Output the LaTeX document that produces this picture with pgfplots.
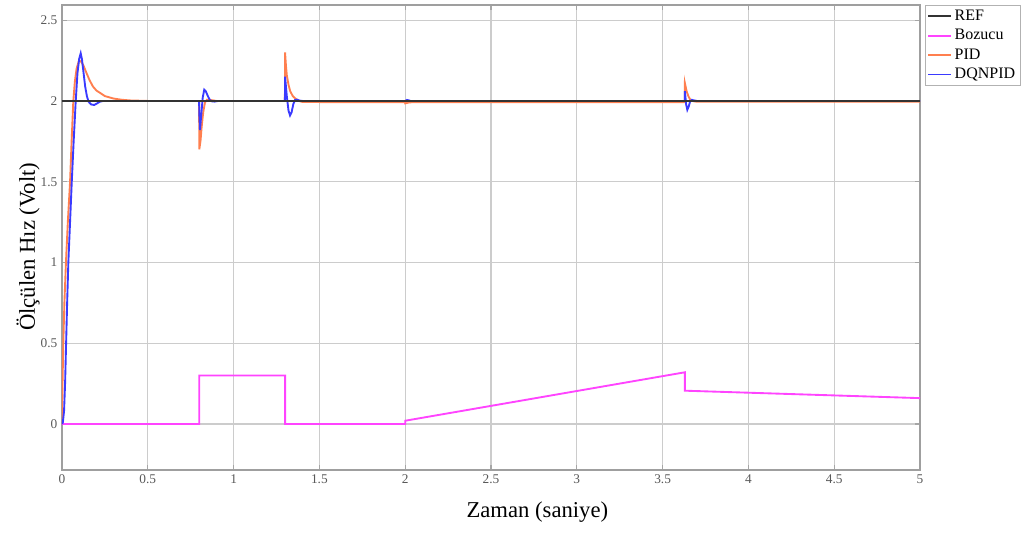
\documentclass[border=0pt]{standalone}
\usepackage{fontspec}
\setmainfont{Liberation Serif}
\usepackage{pgfplots}
\pgfplotsset{compat=1.18}
\definecolor{refc}{HTML}{333333}
\definecolor{bozc}{HTML}{FF44FF}
\definecolor{pidc}{HTML}{FF7F4F}
\definecolor{dqnc}{HTML}{3A3AFF}
\begin{document}
\begin{tikzpicture}
\useasboundingbox (-46.5pt,-46.5pt) rectangle (721.5pt,352.5pt);
\begin{axis}[at={(0,0)},anchor=south west,scale only axis,
  width=643.5pt,height=348.75pt,
  xmin=0,xmax=5,ymin=-0.285,ymax=2.594,
  xtick={0,0.5,...,5},ytick={0,0.5,...,2.5},
  xticklabels={0,0.5,1,1.5,2,2.5,3,3.5,4,4.5,5},
  yticklabels={0,0.5,1,1.5,2,2.5},
  /pgf/number format/assume math mode=true,
  ticklabel style={font=\fontsize{10}{11}\selectfont, text=black!65},
  grid=major,
  major grid style={gray!40,line width=0.9pt},
  axis line style={gray!75,line width=0.8pt},
  tick style={gray!70,line width=0.8pt},
  major tick length=4pt,
  tick align=inside,
  xlabel={Zaman (saniye)},
  ylabel={Ölçülen Hız (Volt)},
  label style={font=\fontsize{17}{19}\selectfont},
  xlabel style={at={(axis description cs:0.554,-0.0903)},anchor=center},
  ylabel style={at={(axis description cs:-0.0396,0.48)},anchor=center},
  legend style={at={(rel axis cs:1.006,1)},anchor=north west,draw=gray!60,
    font=\fontsize{12}{13.5}\selectfont,cells={anchor=west},
    inner sep=1.5pt,row sep=1.2pt},
  legend image post style={line width=1.4pt},
  every axis plot/.append style={line width=1.4pt},
]
\addplot[refc] coordinates {(0,2) (5,2)};
\addlegendentry{REF}
\addplot[bozc] coordinates {(0,0) (0.8,0) (0.8,0.3) (1.3,0.3) (1.3,0) (2.0,0) (2.0,0.02) (3.63,0.32) (3.63,0.206) (5,0.16)};
\addlegendentry{Bozucu}
\addplot[pidc] coordinates {
(0,0) (0.003,0.25) (0.0076,0.5) (0.014,0.75) (0.023,1.0) (0.034,1.25) (0.047,1.5) (0.056,1.75) (0.066,2.0) (0.075,2.12) (0.085,2.2) (0.099,2.25) (0.11,2.245) (0.125,2.22) (0.14,2.18) (0.16,2.13) (0.18,2.09) (0.2,2.065) (0.25,2.03) (0.3,2.015) (0.35,2.007) (0.4,2.003) (0.5,2.0)
(0.799,2.0) (0.8,1.70) (0.807,1.75) (0.814,1.84) (0.823,1.93) (0.833,1.99) (0.845,2.008) (0.87,2.005) (0.9,2.0)
(1.299,2.0) (1.3,2.30) (1.305,2.22) (1.31,2.16) (1.32,2.10) (1.33,2.06) (1.345,2.03) (1.36,2.015) (1.38,2.0) (1.4,1.994) (1.5,1.993)
(1.999,1.993) (2.0,1.985) (2.02,1.99) (2.05,1.993) (3.629,1.993) (3.63,2.11) (3.64,2.06) (3.65,2.03) (3.66,2.01) (3.68,1.998) (3.7,1.995) (5,1.995)};
\addlegendentry{PID}
\addplot[dqnc] coordinates {
(0,0) (0.005,0.01) (0.012,0.08) (0.018,0.25) (0.024,0.5) (0.03,0.75) (0.037,1.0) (0.047,1.25) (0.057,1.5) (0.068,1.75) (0.08,2.0) (0.09,2.17) (0.1,2.26) (0.109,2.295) (0.116,2.26) (0.125,2.18) (0.135,2.09) (0.145,2.03) (0.155,1.995) (0.17,1.978) (0.188,1.975) (0.205,1.985) (0.22,1.995) (0.24,2.0)
(0.799,2.0) (0.8,1.93) (0.804,1.82) (0.812,1.92) (0.82,2.02) (0.829,2.07) (0.838,2.06) (0.85,2.03) (0.862,2.005) (0.875,1.997) (0.89,1.996) (0.91,2.0)
(1.299,2.0) (1.3,2.15) (1.31,2.03) (1.32,1.94) (1.329,1.91) (1.338,1.93) (1.348,1.98) (1.358,2.006) (1.37,2.008) (1.385,2.002) (1.4,2.0)
(1.999,2.0) (2.0,2.0) (2.01,2.006) (2.02,2.004) (2.03,2.0)
(3.629,2.0) (3.63,2.06) (3.637,1.98) (3.644,1.945) (3.652,1.965) (3.66,1.995) (3.67,2.007) (3.68,2.004) (3.7,2.0) (5,2.0)};
\addlegendentry{DQNPID}
\addplot[refc,forget plot] coordinates {(0,2) (5,2)};
\end{axis}
\end{tikzpicture}
\end{document}
